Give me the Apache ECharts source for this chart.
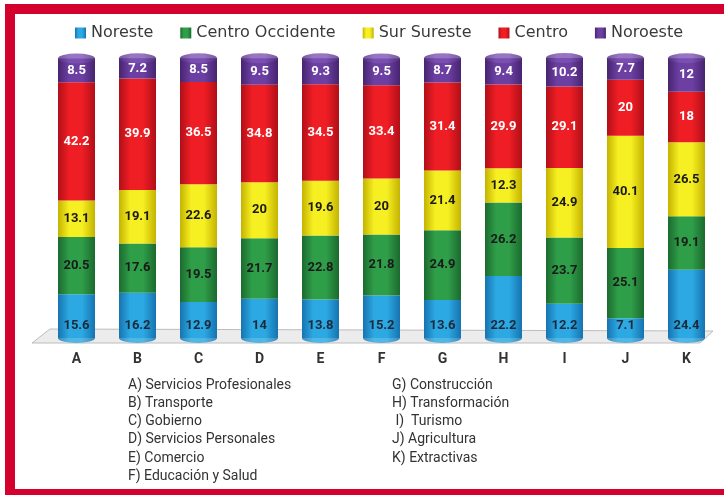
<!DOCTYPE html>
<html>
<head>
<meta charset="utf-8">
<script src="https://cdn.jsdelivr.net/npm/echarts@6/dist/echarts.min.js"></script>
<style>
  html, body { margin: 0; padding: 0; background: #fff; }
  #chart { width: 724px; height: 495px; }
</style>
</head>
<body>
<div id="chart"></div>
<script>
// categorias y valores (porcentaje por región)
const categories = ['A', 'B', 'C', 'D', 'E', 'F', 'G', 'H', 'I', 'J', 'K'];
const noreste = [15.6, 16.2, 12.9, 14, 13.8, 15.2, 13.6, 22.2, 12.2, 7.1, 24.4];
const centroOccidente = [20.5, 17.6, 19.5, 21.7, 22.8, 21.8, 24.9, 26.2, 23.7, 25.1, 19.1];
const surSureste = [13.1, 19.1, 22.6, 20, 19.6, 20, 21.4, 12.3, 24.9, 40.1, 26.5];
const centro = [42.2, 39.9, 36.5, 34.8, 34.5, 33.4, 31.4, 29.9, 29.1, 20, 18];
const noroeste = [8.5, 7.2, 8.5, 9.5, 9.3, 9.5, 8.7, 9.4, 10.2, 7.7, 12];
const regionNames = ['Noreste', 'Centro Occidente', 'Sur Sureste', 'Centro', 'Noroeste'];
const sectorLabels = [
  'A) Servicios Profesionales', 'B) Transporte', 'C) Gobierno',
  'D) Servicios Personales', 'E) Comercio', 'F) Educación y Salud',
  'G) Construcción', 'H) Transformación', ' I)  Turismo',
  'J) Agricultura', 'K) Extractivas'
];

const chart = echarts.init(document.getElementById('chart'));

// gradiente horizontal para simular cilindro
function cyl(light, dark) {
  return new echarts.graphic.LinearGradient(0, 0, 1, 0, [
    { offset: 0, color: dark },
    { offset: 0.3, color: light },
    { offset: 0.65, color: light },
    { offset: 1, color: dark }
  ]);
}

const palette = [
  ['#2ca9e3', '#1673b0'],
  ['#2f9e49', '#1b6a2e'],
  ['#f6ef22', '#c4b300'],
  ['#ef1d24', '#b10f18'],
  ['#6c40a2', '#472470']
];
const labelColors = ['#1c2a3c', '#1a1a1a', '#1a1a1a', '#ffffff', '#ffffff'];
const allData = [noreste, centroOccidente, surSureste, centro, noroeste];
const totals = categories.map((c, i) => allData.reduce((s, arr) => s + arr[i], 0));

let seriesData = allData.map((arr, k) => ({
  name: regionNames[k],
  type: 'bar',
  stack: 'total',
  barWidth: 37,
  itemStyle: { color: cyl(palette[k][0], palette[k][1]) },
  label: {
    show: true,
    position: k === 0 ? 'insideBottom' : 'inside',
    distance: 6,
    color: labelColors[k],
    fontFamily: 'Roboto',
    fontWeight: 'bold',
    fontSize: 13
  },
  data: arr
}));

// tapa superior y base redonda de los cilindros
seriesData.push({
  type: 'scatter',
  symbol: 'circle',
  symbolSize: [37, 10],
  z: 3,
  silent: true,
  itemStyle: { color: cyl('#7d52b4', '#52307e') },
  data: totals
});
seriesData.push({
  type: 'scatter',
  symbol: 'circle',
  symbolSize: [37, 10],
  z: 1,
  silent: true,
  itemStyle: { color: cyl(palette[0][0], palette[0][1]) },
  data: categories.map(() => 0)
});

let graphics = [
  {
    type: 'polygon',
    z: -10,
    shape: { points: [[32, 343], [50, 329], [713, 331], [700, 343]] },
    style: { fill: '#ececec', stroke: '#bdbdbd', lineWidth: 1 }
  },
  {
    type: 'rect',
    z: 100,
    shape: { x: 10, y: 9, width: 740, height: 485 },
    style: { fill: 'none', stroke: '#d4002d', lineWidth: 10 }
  }
];
sectorLabels.forEach((t, i) => {
  const col = i < 6 ? 0 : 1;
  const row = i < 6 ? i : i - 6;
  graphics.push({
    type: 'text',
    x: col === 0 ? 128 : 392,
    y: 385 + row * 18.3,
    style: {
      text: t,
      font: '14px Roboto',
      fill: '#333',
      verticalAlign: 'middle'
    }
  });
});

chart.setOption({
  animation: false,
  backgroundColor: '#fff',
  legend: {
    data: regionNames,
    left: 70,
    top: 20,
    itemWidth: 11,
    itemHeight: 11,
    itemGap: 27,
    icon: 'rect',
    textStyle: { color: '#3a3a3a', fontSize: 16, fontFamily: 'DejaVu Sans' }
  },
  grid: { left: 46, right: 7, top: 58, bottom: 157 },
  xAxis: {
    type: 'category',
    data: categories,
    axisLine: { show: false },
    axisTick: { show: false },
    axisLabel: {
      margin: 14,
      color: '#333',
      fontWeight: 'bold',
      fontSize: 14,
      fontFamily: 'Roboto'
    }
  },
  yAxis: {
    type: 'value',
    show: false,
    min: 0,
    max: 100.1
  },
  graphic: graphics,
  series: seriesData
});
</script>
</body>
</html>
